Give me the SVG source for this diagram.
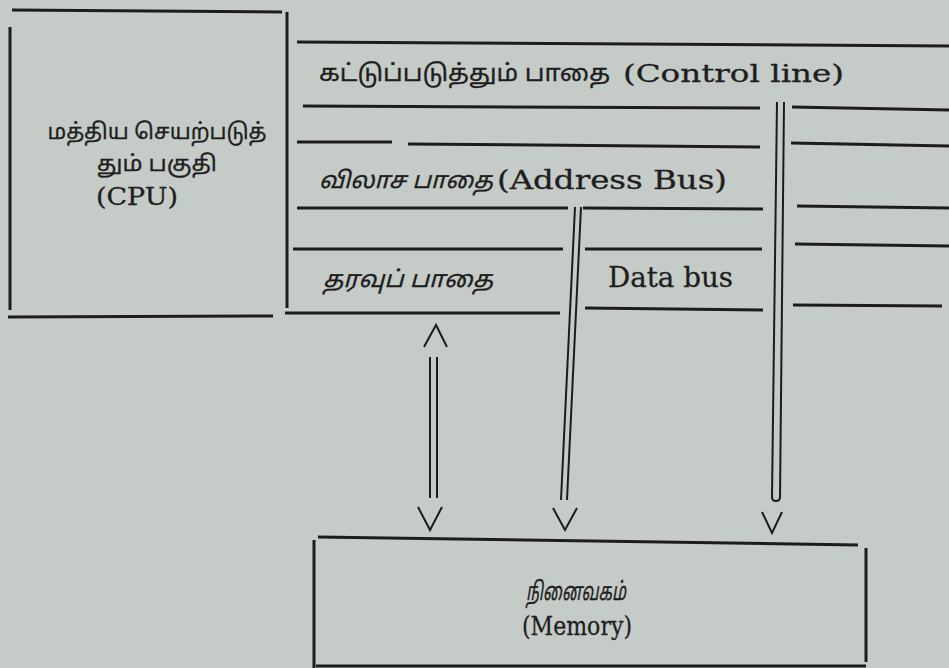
<svg xmlns="http://www.w3.org/2000/svg" width="949" height="668" viewBox="0 0 949 668">
<style>
.bg{fill:#c5cbc6}
.ln{stroke:#1c1c1c;stroke-width:3;fill:none;stroke-linecap:butt}
.thin{stroke:#1c1c1c;stroke-width:2;fill:none}
.en{font-family:"DejaVu Serif","Liberation Serif",serif;fill:#1e1e1e;stroke:#1e1e1e;stroke-width:0.3}
.ta{font-family:"Noto Sans Tamil","Noto Serif Tamil","Lohit Tamil","Latha","Noto Sans",sans-serif;fill:#1e1e1e;stroke:#1e1e1e;stroke-width:0.3}
.it{font-style:italic}
</style>
<rect class="bg" x="0" y="0" width="949" height="668"/>

<g id="cpu">
  <line class="ln" x1="12" y1="10" x2="282" y2="12"/>
  <line class="ln" x1="10" y1="27" x2="10" y2="310"/>
  <line class="ln" x1="287" y1="12" x2="287" y2="308"/>
  <line class="ln" x1="8" y1="317" x2="273" y2="316"/>
  <text class="ta" x="157" y="139" font-size="22" text-anchor="middle" textLength="219" lengthAdjust="spacingAndGlyphs">மத்திய செயற்படுத்</text>
  <text class="ta" x="157" y="171" font-size="22" text-anchor="middle" textLength="120" lengthAdjust="spacingAndGlyphs">தும் பகுதி</text>
  <text class="en" x="96" y="205" font-size="24" textLength="82" lengthAdjust="spacingAndGlyphs">(CPU)</text>
</g>

<g id="control-line">
  <line class="ln" x1="297" y1="42" x2="949" y2="46"/>
  <line class="ln" x1="303" y1="106" x2="760" y2="108"/>
  <line class="ln" x1="792" y1="107" x2="949" y2="110"/>
  <text class="ta" x="319" y="81" font-size="23" textLength="291" lengthAdjust="spacingAndGlyphs">கட்டுப்படுத்தும் பாதை</text>
  <text class="en" x="623" y="82" font-size="25" textLength="221" lengthAdjust="spacingAndGlyphs">(Control line)</text>
</g>

<g id="address-bus">
  <line class="ln" x1="297" y1="142" x2="392" y2="142"/>
  <line class="ln" x1="408" y1="144" x2="760" y2="147"/>
  <line class="ln" x1="791" y1="143" x2="949" y2="146"/>
  <line class="ln" x1="297" y1="208" x2="568" y2="208"/>
  <line class="ln" x1="583" y1="208" x2="763" y2="209"/>
  <line class="ln" x1="797" y1="206" x2="949" y2="208"/>
  <text class="ta it" x="319" y="188" font-size="23" textLength="174" lengthAdjust="spacingAndGlyphs">விலாச பாதை</text>
  <text class="en" x="497" y="189" font-size="26" textLength="230" lengthAdjust="spacingAndGlyphs">(Address Bus)</text>
</g>

<g id="data-bus">
  <line class="ln" x1="293" y1="249" x2="563" y2="249"/>
  <line class="ln" x1="585" y1="249" x2="762" y2="249"/>
  <line class="ln" x1="795" y1="244" x2="949" y2="246"/>
  <line class="ln" x1="285" y1="313" x2="560" y2="313"/>
  <line class="ln" x1="585" y1="308" x2="763" y2="310"/>
  <line class="ln" x1="793" y1="305" x2="942" y2="306"/>
  <text class="ta it" x="323" y="287" font-size="23" textLength="170" lengthAdjust="spacingAndGlyphs">தரவுப் பாதை</text>
  <text class="en" x="608" y="287" font-size="28" textLength="125" lengthAdjust="spacingAndGlyphs">Data bus</text>
</g>

<g id="memory">
  <line class="ln" x1="318" y1="537" x2="858" y2="545"/>
  <line class="ln" x1="314" y1="540" x2="314" y2="668"/>
  <line class="ln" x1="866" y1="548" x2="866" y2="662"/>
  <line class="ln" x1="316" y1="666" x2="866" y2="666"/>
  <text class="ta it" x="576" y="600" font-size="25" text-anchor="middle" textLength="100" lengthAdjust="spacingAndGlyphs">நினைவகம்</text>
  <text class="en" x="577" y="635" font-size="26" text-anchor="middle" textLength="110" lengthAdjust="spacingAndGlyphs">(Memory)</text>
</g>

<g id="connectors">
  <polyline class="thin" points="424,347 436,325 447,347"/>
  <line class="thin" x1="430" y1="357" x2="430" y2="498"/>
  <line class="thin" x1="437" y1="357" x2="437" y2="498"/>
  <polyline class="thin" points="418,507 430,530 442,507"/>
  <line class="thin" x1="575" y1="207" x2="561" y2="500"/>
  <line class="thin" x1="581" y1="207" x2="567" y2="500"/>
  <polyline class="thin" points="553,508 565,530 577,508"/>
  <path class="thin" d="M777,102 L772,497 Q772,501 776,501 Q780,501 780,497 L784,102"/>
  <polyline class="thin" points="762,512 772,533 782,512"/>
</g>
</svg>
